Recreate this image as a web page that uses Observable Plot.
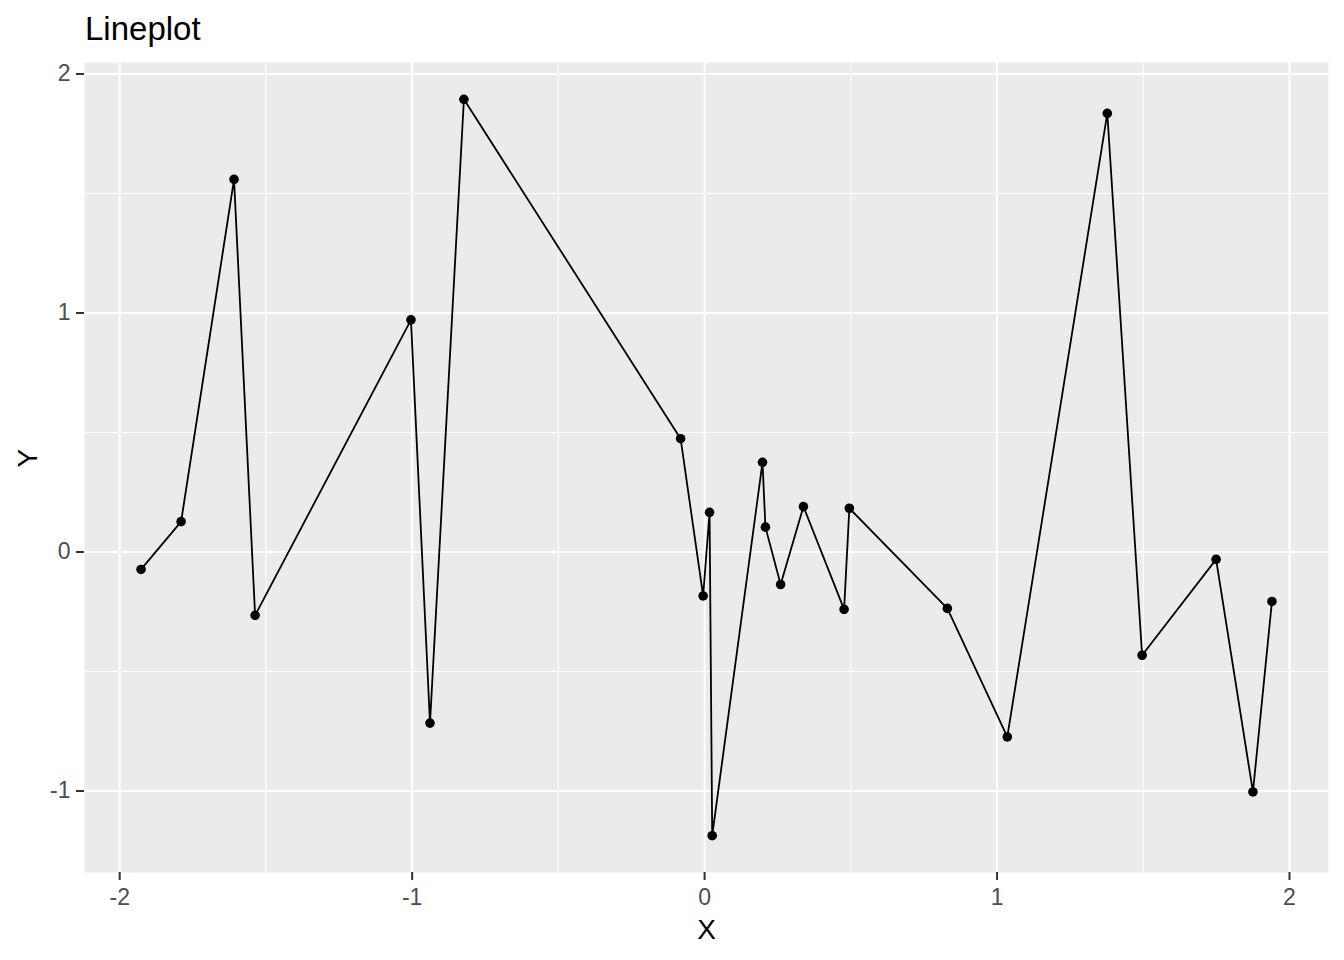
<!DOCTYPE html>
<html>
<head>
<meta charset="utf-8">
<script src="https://cdn.jsdelivr.net/npm/d3@7"></script>
<script src="https://cdn.jsdelivr.net/npm/@observablehq/plot@0.6"></script>
<style>
  html, body { margin: 0; padding: 0; background: #ffffff; }
  #title { box-sizing: border-box; height: 50px; padding-top: 12px; padding-left: 85px;
    font-family: "Liberation Sans", Arial, sans-serif; font-size: 33px; line-height: 33px; color: #000; }
  #chart svg { display: block; }
</style>
</head>
<body>
<div id="title">Lineplot</div>
<div id="chart"></div>
<script>
const xValues = [-1.927, -1.790, -1.609, -1.537, -1.004, -0.939, -0.823, -0.082, -0.005, 0.017, 0.026, 0.198, 0.208, 0.260, 0.338, 0.477, 0.495, 0.830, 1.035, 1.377, 1.496, 1.749, 1.875, 1.940];
const yValues = [-0.073, 0.127, 1.559, -0.265, 0.971, -0.716, 1.894, 0.474, -0.184, 0.166, -1.187, 0.375, 0.104, -0.136, 0.190, -0.240, 0.183, -0.236, -0.774, 1.835, -0.432, -0.031, -1.004, -0.207];
const xTicks = [-2, -1, 0, 1, 2];
const yTicks = [-1, 0, 1, 2];
const xMinor = [-1.5, -0.5, 0.5, 1.5];
const yMinor = [-0.5, 0.5, 1.5];

const data = xValues.map((x, i) => ({x, y: yValues[i]}));
const expand = ([a, b]) => [a - 0.05 * (b - a), b + 0.05 * (b - a)];
const xDomain = expand(d3.extent(xValues));
const yDomain = expand(d3.extent(yValues));

const chart = Plot.plot({
  width: 1344,
  height: 910,
  marginLeft: 84,
  marginRight: 16,
  marginTop: 12,
  marginBottom: 88,
  style: { fontFamily: "'Liberation Sans', Arial, sans-serif", background: "#ffffff" },
  x: { domain: xDomain },
  y: { domain: yDomain },
  marks: [
    Plot.frame({ fill: "#EBEBEB", stroke: null }),
    Plot.ruleX(xMinor, { stroke: "#ffffff", strokeWidth: 1 }),
    Plot.ruleY(yMinor, { stroke: "#ffffff", strokeWidth: 1 }),
    Plot.ruleX(xTicks, { stroke: "#ffffff", strokeWidth: 2 }),
    Plot.ruleY(yTicks, { stroke: "#ffffff", strokeWidth: 2 }),
    Plot.line(data, { x: "x", y: "y", stroke: "#000000", strokeWidth: 1.8 }),
    Plot.dot(data, { x: "x", y: "y", r: 4.8, fill: "#000000", stroke: null }),
    Plot.axisX({ ticks: xTicks, tickFormat: d => String(d), tickSize: 8, tickPadding: 8, fontSize: 23,
      stroke: "#333333", strokeWidth: 2, fill: "#4D4D4D", label: null }),
    Plot.axisY({ ticks: yTicks, tickFormat: d => String(d), tickSize: 8, tickPadding: 6, fontSize: 23,
      stroke: "#333333", strokeWidth: 2, fill: "#4D4D4D", label: null }),
    Plot.text(["X"], { frameAnchor: "bottom", dy: 58, lineAnchor: "middle", fontSize: 28, fill: "#000000" }),
    Plot.text(["Y"], { frameAnchor: "left", dx: -56, rotate: -90, lineAnchor: "middle", fontSize: 28, fill: "#000000" })
  ]
});
document.getElementById("chart").appendChild(chart);
</script>
</body>
</html>
